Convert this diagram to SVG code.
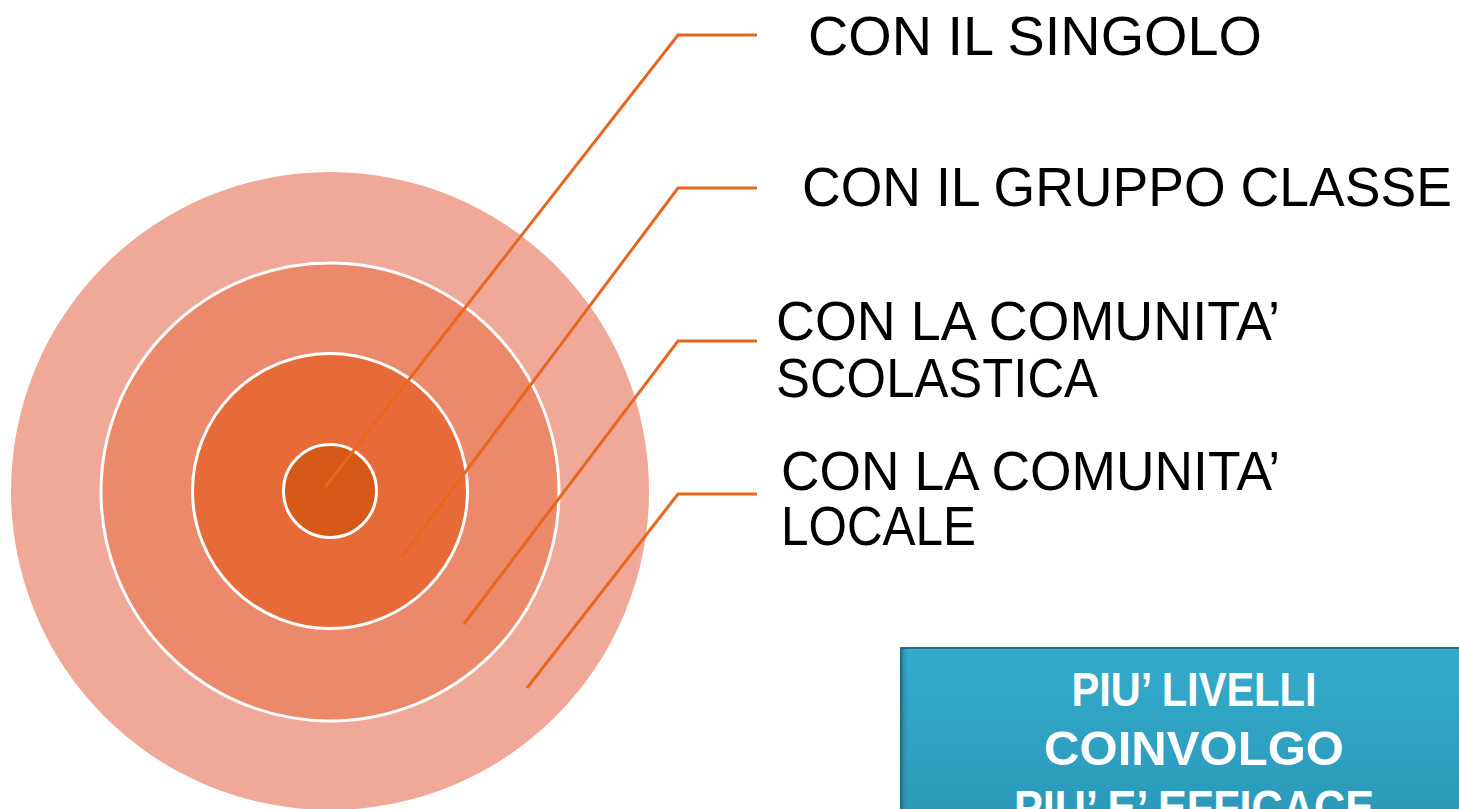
<svg xmlns="http://www.w3.org/2000/svg" width="1459" height="809" viewBox="0 0 1459 809">
<defs>
<style>
.ring{stroke:#FFFFFF;stroke-width:3}
.lbl{font-family:"Liberation Sans",Arial,sans-serif;font-size:55px;fill:#000000}
.btxt{font-family:"Liberation Sans",Arial,sans-serif;font-size:48px;font-weight:bold;fill:#FFFFFF;text-anchor:middle}
.conn{fill:none;stroke:#E8661E;stroke-width:3;stroke-linejoin:miter}
</style>
<linearGradient id="boxg" x1="0" y1="0" x2="0" y2="1">
<stop offset="0" stop-color="#34ABCC"/>
<stop offset="1" stop-color="#2996B6"/>
</linearGradient>
<linearGradient id="bevL" x1="0" y1="0" x2="1" y2="0">
<stop offset="0" stop-color="#1E6E86"/>
<stop offset="1" stop-color="#34ABCC" stop-opacity="0"/>
</linearGradient>
</defs>
<rect width="1459" height="809" fill="#FFFFFF"/>
<g id="ring-locale"><circle cx="330" cy="491" r="319" fill="#F0A898"/></g>
<g id="ring-scolastica"><circle cx="330" cy="492" r="229" fill="#EB896A" class="ring"/></g>
<g id="ring-classe"><circle cx="330" cy="491" r="137.5" fill="#E76B39" class="ring"/></g>
<g id="ring-singolo"><circle cx="330" cy="491" r="46.5" fill="#D55917" class="ring"/></g>
<g id="connectors">
<polyline class="conn" points="325,487 678,35 757,35"/>
<polyline class="conn" points="401,558 678,188 757,188"/>
<polyline class="conn" points="464,624 678,341 757,341"/>
<polyline class="conn" points="527,688 678,494 757,494"/>
</g>
<g id="label-singolo"><text class="lbl" x="808" y="55" textLength="454" lengthAdjust="spacingAndGlyphs">CON IL SINGOLO</text></g>
<g id="label-classe"><text class="lbl" x="802" y="206" textLength="650" lengthAdjust="spacingAndGlyphs">CON IL GRUPPO CLASSE</text></g>
<g id="label-scolastica">
<text class="lbl" x="776" y="340" textLength="504" lengthAdjust="spacingAndGlyphs">CON LA COMUNITA’</text>
<text class="lbl" x="776" y="397" textLength="322" lengthAdjust="spacingAndGlyphs">SCOLASTICA</text>
</g>
<g id="label-locale">
<text class="lbl" x="781" y="490" textLength="499" lengthAdjust="spacingAndGlyphs">CON LA COMUNITA’</text>
<text class="lbl" x="781" y="545" textLength="195" lengthAdjust="spacingAndGlyphs">LOCALE</text>
</g>
<g id="box-efficace">
<rect x="901" y="648" width="600" height="200" fill="url(#boxg)" stroke="#1F7089" stroke-width="2"/>
<rect x="902" y="649" width="8" height="200" fill="url(#bevL)" opacity="0.6"/>
<text class="btxt" x="1194" y="706" textLength="245" lengthAdjust="spacingAndGlyphs">PIU’ LIVELLI</text>
<text class="btxt" x="1194" y="765" textLength="300" lengthAdjust="spacingAndGlyphs">COINVOLGO</text>
<text class="btxt" x="1194" y="824" textLength="360" lengthAdjust="spacingAndGlyphs">PIU’ E’ EFFICACE</text>
</g>
</svg>
